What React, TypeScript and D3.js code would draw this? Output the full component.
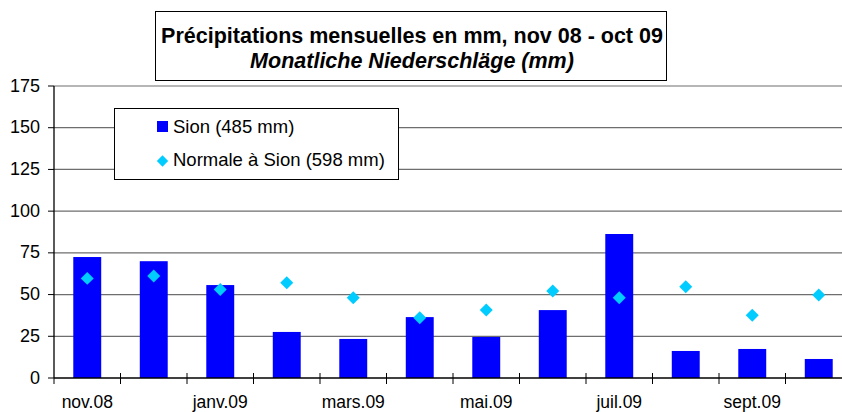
import React, { useEffect, useRef } from "react"
import * as d3 from "d3"

// monthly data
const months = ["nov.08", "déc.08", "janv.09", "févr.09", "mars.09", "avr.09", "mai.09", "juin.09", "juil.09", "août.09", "sept.09", "oct.09"]
const sion = [72.5, 70, 55.7, 27.6, 23.4, 36.5, 24.6, 40.7, 86.3, 16.2, 17.4, 11.4]
const normale = [59.7, 61.1, 53.1, 57.1, 48.1, 36.1, 40.7, 52.1, 48.1, 54.7, 37.6, 49.7]
const yTicks = [0, 25, 50, 75, 100, 125, 150, 175]
const titleLines = ["Précipitations mensuelles en mm, nov 08 - oct 09", "Monatliche Niederschläge (mm)"]
const legendLabels = ["Sion (485 mm)", "Normale à Sion (598 mm)"]

const W = 842
const H = 412
const FONT = "Liberation Sans, Arial, sans-serif"

const drawChart = (wrapper: SVGSVGElement) => {
  const svg = d3.select(wrapper)
  svg.selectAll("*").remove()

  const left = 54
  const bottom = 378
  const top = 86
  const bandW = 66.5

  const x = d3
    .scaleBand()
    .domain(months)
    .range([left, left + bandW * months.length])
    .paddingInner(0.58)
    .paddingOuter(0.29)
  const y = d3.scaleLinear().domain([0, 175]).range([bottom, top])

  // grid lines
  svg
    .append("g")
    .selectAll("line")
    .data(yTicks.slice(1))
    .enter()
    .append("line")
    .attr("x1", left)
    .attr("x2", W)
    .attr("y1", d => y(d))
    .attr("y2", d => y(d))
    .attr("stroke", "#6e6e6e")
    .attr("stroke-width", 1.2)

  // y axis
  const yAxis = svg.append("g").attr("transform", "translate(" + left + ",0)")
  yAxis.append("line").attr("y1", top).attr("y2", bottom).attr("stroke", "#000").attr("stroke-width", 1.3)
  yAxis
    .selectAll("tick")
    .data(yTicks)
    .enter()
    .append("line")
    .attr("x1", -6)
    .attr("x2", 0)
    .attr("y1", d => y(d))
    .attr("y2", d => y(d))
    .attr("stroke", "#000")
  yAxis
    .selectAll("text")
    .data(yTicks)
    .enter()
    .append("text")
    .attr("x", -14)
    .attr("y", d => y(d) + 5.5)
    .attr("text-anchor", "end")
    .style("font-family", FONT)
    .style("font-size", "18px")
    .text(d => d)

  // bars
  svg
    .append("g")
    .selectAll("rect")
    .data(sion)
    .enter()
    .append("rect")
    .attr("x", (d, i) => x(months[i])!)
    .attr("width", x.bandwidth())
    .attr("y", d => y(d))
    .attr("height", d => bottom - y(d))
    .attr("fill", "#0000ff")

  // normal values as diamonds
  const diamond = d3.symbol().type(d3.symbolSquare).size(84)
  svg
    .append("g")
    .selectAll("path")
    .data(normale)
    .enter()
    .append("path")
    .attr("d", diamond)
    .attr("transform", (d, i) => "translate(" + (x(months[i])! + x.bandwidth() / 2) + "," + y(d) + ") rotate(45)")
    .attr("fill", "#00ccff")

  // x axis
  const xAxis = svg.append("g")
  xAxis.append("line").attr("x1", left).attr("x2", W).attr("y1", bottom).attr("y2", bottom).attr("stroke", "#000").attr("stroke-width", 1.3)
  const bounds = d3.range(months.length + 1).map(i => left + i * bandW)
  xAxis
    .selectAll("tick")
    .data(bounds)
    .enter()
    .append("line")
    .attr("x1", d => d)
    .attr("x2", d => d)
    .attr("y1", (d, i) => (i === 0 ? bottom : bottom - 5))
    .attr("y2", bottom + 6)
    .attr("stroke", "#000")
  xAxis
    .selectAll("text")
    .data(months.filter((m, i) => i % 2 === 0))
    .enter()
    .append("text")
    .attr("x", d => x(d)! + x.bandwidth() / 2)
    .attr("y", 407.5)
    .attr("text-anchor", "middle")
    .style("font-family", FONT)
    .style("font-size", "17.5px")
    .text(d => d)

  // title box
  svg.append("rect").attr("x", 155.5).attr("y", 11.5).attr("width", 511).attr("height", 69).attr("fill", "#fff").attr("stroke", "#000")
  svg
    .selectAll("title-line")
    .data(titleLines)
    .enter()
    .append("text")
    .attr("x", 412)
    .attr("y", (d, i) => 43 + i * 24.5)
    .attr("text-anchor", "middle")
    .style("font-family", FONT)
    .style("font-size", "21.5px")
    .style("font-weight", "bold")
    .style("font-style", (d, i) => (i === 1 ? "italic" : "normal"))
    .text(d => d)

  // legend
  const lg = svg.append("g")
  lg.append("rect").attr("x", 114.5).attr("y", 108.5).attr("width", 284).attr("height", 71).attr("fill", "#fff").attr("stroke", "#000")
  lg.append("rect").attr("x", 157).attr("y", 121).attr("width", 11).attr("height", 11).attr("fill", "#0000ff")
  lg.append("path").attr("d", diamond.size(64)).attr("transform", "translate(162.5,161) rotate(45)").attr("fill", "#00ccff")
  lg.selectAll("text")
    .data(legendLabels)
    .enter()
    .append("text")
    .attr("x", 173)
    .attr("y", (d, i) => 132.5 + i * 33.5)
    .style("font-family", FONT)
    .style("font-size", "18.5px")
    .text(d => d)
}

export default function App() {
  const ref = useRef<SVGSVGElement>(null)
  useEffect(() => {
    if (ref.current) drawChart(ref.current)
  }, [])
  return (
    <svg
      ref={ref}
      width={W}
      height={H}
      style={{ position: "absolute", left: 0, top: 0, background: "#fff" }}
    ></svg>
  )
}
